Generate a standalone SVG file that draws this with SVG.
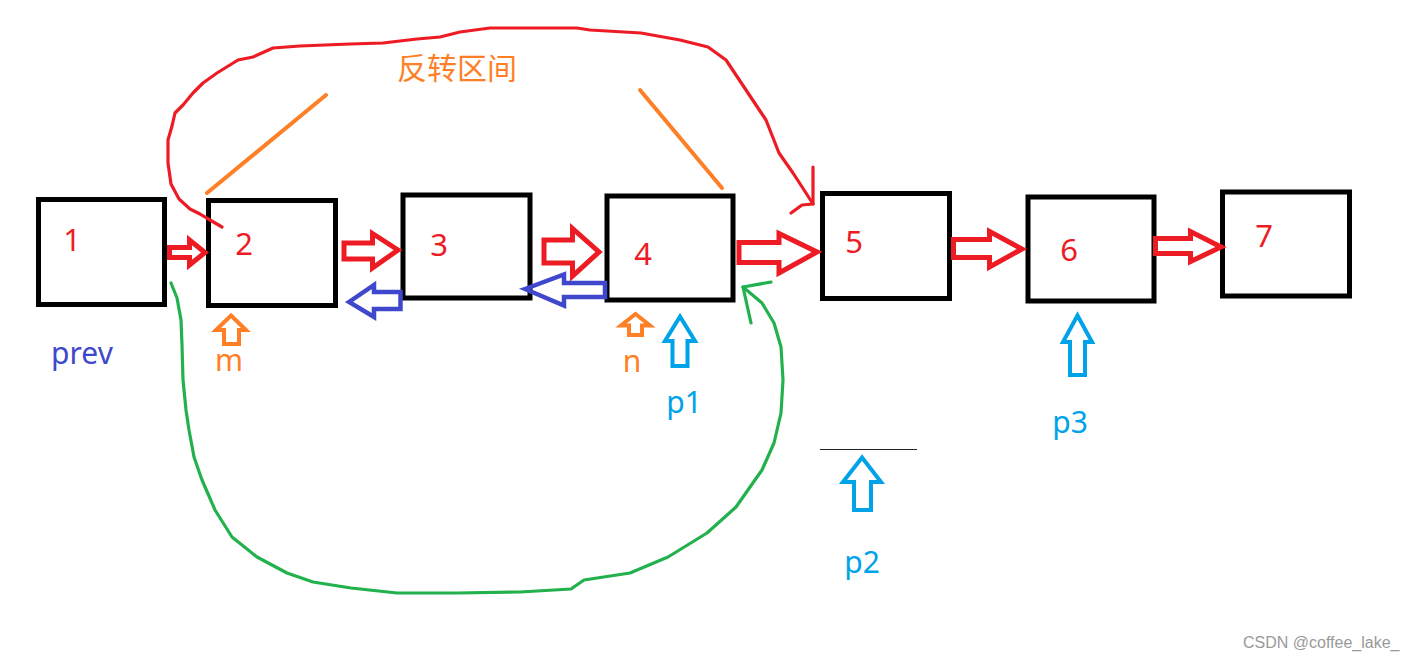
<svg xmlns="http://www.w3.org/2000/svg" width="1423" height="661" viewBox="0 0 1423 661">
<style>
.box{fill:none;stroke:#000;stroke-width:5}
.num{font-family:"Noto Sans","Noto Sans CJK SC",sans-serif;font-size:31px;fill:#ED1C24;text-anchor:middle}
.lbl{font-family:"Noto Sans","Noto Sans CJK SC",sans-serif;font-size:30px;text-anchor:middle}
.ra{fill:none;stroke:#ED1C24;stroke-width:5;stroke-linejoin:miter}
.ba{fill:none;stroke:#3F48CC;stroke-width:4.5}
.oa{fill:none;stroke:#FF7F27;stroke-width:4}
.ca{fill:none;stroke:#00A2E8;stroke-width:4}
.hand{fill:none;stroke-width:3.2;stroke-linejoin:round;stroke-linecap:round}
</style>
<rect width="1423" height="661" fill="#fff"/>
<g id="node1"><rect class="box" x="38.5" y="199.5" width="126" height="105"/><text class="num" x="72" y="251">1</text></g>
<g id="node2"><rect class="box" x="208.5" y="200.5" width="127" height="105"/><text class="num" x="244" y="255">2</text></g>
<g id="node3"><rect class="box" x="403" y="195" width="127" height="103"/><text class="num" x="439" y="256">3</text></g>
<g id="node4"><rect class="box" x="607" y="196" width="126" height="104"/><text class="num" x="643" y="265">4</text></g>
<g id="node5"><rect class="box" x="822.5" y="193.5" width="127" height="105"/><text class="num" x="854" y="253">5</text></g>
<g id="node6"><rect class="box" x="1028" y="197" width="126" height="104"/><text class="num" x="1069" y="261">6</text></g>
<g id="node7"><rect class="box" x="1222.5" y="192" width="127" height="104"/><text class="num" x="1264" y="247">7</text></g>
<g id="connectors">
<polygon class="ra" points="169.5,247.5 189.5,247.5 189.5,240 205,252.5 189.5,265 189.5,257.5 169.5,257.5"/>
<polygon class="ra" points="344,243 372.5,243 372.5,233.5 398,250 372.5,268 372.5,259 344,259"/>
<polygon class="ra" points="544,240 572.5,240 572.5,228.5 599,252 572.5,276 572.5,263 544,263"/>
<polygon class="ra" points="739,242.5 779,242.5 779,233.5 817,252 779,273 779,262.5 739,262.5"/>
<polygon class="ra" points="953.5,239.5 989.5,239.5 989.5,231.5 1022,249 989.5,267 989.5,257.5 953.5,257.5"/>
<polygon class="ra" points="1155.5,238.5 1190.5,238.5 1190.5,231.5 1221,247 1190.5,261.5 1190.5,253.5 1155.5,253.5"/>
<polygon class="ba" points="349,302 374,285 374,292 400.5,292 400.5,309 374,309 374,317"/>
<polygon class="ba" points="525,289 564,274.5 564,283 605,283 605,297 564,297 564,305.5"/>
<polyline class="hand" stroke="#ED1C24" points="222,227 210,220 200,214 190,209 179,199 171,184 168,163 168,140 172,126 175,113 183,105 193,93 203,83 217,73 238,60 253,57 273,48 300,46 350,44 383,43 417,39 440,37 460,32 490,28 577,28 590,30 641,33 680,40 708,47 726,60 748,93 766,120 779,153 793,173 806,193 813,204"/>
<polyline class="hand" stroke="#ED1C24" points="813,167 813,204 802,205 791,213"/>
<polyline class="hand" stroke="#22B14C" points="171,283 177,298 181,320 182,345 183,380 186,410 189,430 194,457 202,480 215,510 232,537 257,557 287,573 313,582 351,588 397,593 457,593 520,592 571,589 584,580 630,573 668,557 707,533 736,507 762,470 774,443 781,413 783,380 781,347 774,323 762,303 743,287"/>
<polyline class="hand" stroke="#22B14C" points="771,282 743,287 751,323"/>
</g>
<g id="bracket">
<line x1="326" y1="95" x2="207" y2="193" stroke="#FF7F27" stroke-width="4" stroke-linecap="round"/>
<line x1="640" y1="90" x2="722" y2="188" stroke="#FF7F27" stroke-width="4" stroke-linecap="round"/>
<text x="457" y="79" font-family="'Noto Sans CJK SC',sans-serif" font-size="30" fill="#FF7F27" text-anchor="middle">反转区间</text>
</g>
<g id="pointers">
<text class="lbl" x="82" y="364" fill="#3F48CC">prev</text>
<polygon class="oa" points="231,315.5 246,330 239,330 239,344 224,344 224,330 216,330"/>
<text class="lbl" x="229" y="371" fill="#FF7F27">m</text>
<polygon class="oa" points="635.5,314 650,325.5 642,325.5 642,335 629,335 629,325.5 621,325.5"/>
<text class="lbl" x="632" y="372" fill="#FF7F27">n</text>
<polygon class="ca" points="680,316.5 695,341 687.5,341 687.5,366 672.5,366 672.5,341 665,341"/>
<text class="lbl" x="684" y="413" fill="#00A2E8">p1</text>
<line x1="820" y1="449.5" x2="917" y2="449.5" stroke="#222" stroke-width="1"/>
<polygon class="ca" points="862,457.5 881,482 871,482 871,510 854,510 854,482 843,482"/>
<text class="lbl" x="862" y="573" fill="#00A2E8">p2</text>
<polygon class="ca" points="1077.5,315.5 1092,342 1085,342 1085,375 1070,375 1070,342 1063,342"/>
<text class="lbl" x="1070" y="433" fill="#00A2E8">p3</text>
</g>
<text x="1243" y="648" font-family="'Liberation Sans',sans-serif" font-size="16" fill="#999">CSDN @coffee_lake_</text>
</svg>
